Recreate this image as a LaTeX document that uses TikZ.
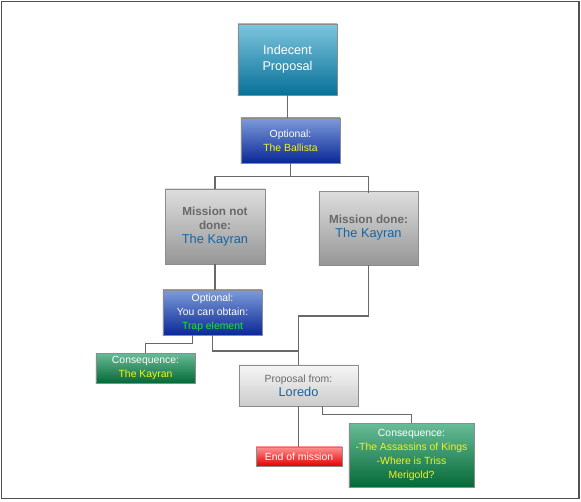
\documentclass[tikz,border=0pt]{standalone}
\usepackage{fontspec}
\setmainfont{Liberation Sans}
\usepackage{xcolor}
\usepackage{tikz}
\usetikzlibrary{positioning}
\definecolor{tealtop}{RGB}{125,198,222}
\definecolor{tealbot}{RGB}{8,112,152}
\definecolor{bluetop}{RGB}{125,155,218}
\definecolor{bluebot}{RGB}{10,40,150}
\definecolor{greytop}{RGB}{222,222,222}
\definecolor{greybot}{RGB}{150,150,150}
\definecolor{palegreytop}{RGB}{246,246,246}
\definecolor{palegreybot}{RGB}{204,204,204}
\definecolor{greentop}{RGB}{105,188,152}
\definecolor{greenbot}{RGB}{5,105,55}
\definecolor{redtop}{RGB}{255,145,145}
\definecolor{redbot}{RGB}{228,0,0}
\definecolor{boxedge}{RGB}{140,140,140}
\definecolor{linkgrey}{RGB}{105,105,105}
\definecolor{kayranblue}{RGB}{20,100,165}
\definecolor{labelgrey}{RGB}{105,105,105}
\definecolor{hiyellow}{RGB}{245,245,20}
\definecolor{higreen}{RGB}{30,235,30}
\tikzstyle{box}   = [rectangle, draw=boxedge, inner sep=0pt, text=white, font=\fontsize{7.8}{10.5}\selectfont]
\tikzstyle{link}  = [draw=linkgrey, line width=1.1pt]
\tikzset{every node/.style={align=center}}
\newcommand{\bigtxt}{\fontsize{9.6}{11.5}\selectfont}

\begin{document}
\begin{tikzpicture}[x=0.75pt, y=-0.75pt]
    \useasboundingbox (0,0) rectangle (581,501);
    \fill[white] (0,0) rectangle (581,501);
    \draw[draw={rgb,255:red,80;green,80;blue,80}, line width=1.3pt] (1.5,1.5) rectangle (579,498.5);
    % Top: mission and optional step
    \node (proposal) at (287.5,59.5)  [box, minimum width=74.3pt, minimum height=53.3pt, top color=tealtop, bottom color=tealbot, font=\fontsize{9.5}{11.8}\selectfont] {Indecent\\Proposal};
    \node (ballista) at (290.5,140.5) [box, minimum width=74.3pt, minimum height=33.8pt, top color=bluetop, bottom color=bluebot] {Optional:\\\textcolor{hiyellow}{The Ballista}};
    % Row 2: both outcomes
    \node (notdone)  at (215,226.5)   [box, minimum width=75pt, minimum height=56.3pt, top color=greytop, bottom color=greybot, text=labelgrey, font=\bfseries\fontsize{8.8}{10.5}\selectfont] {Mission not\\done:\\\textcolor{kayranblue}{\mdseries\bigtxt The Kayran}};
    \node (done)     at (368.5,228)   [box, minimum width=74.3pt, minimum height=55.5pt, top color=greytop, bottom color=greybot, text=labelgrey, font=\bfseries\fontsize{8.8}{10.5}\selectfont] {Mission done:\\\textcolor{kayranblue}{\mdseries\bigtxt The Kayran}};
    % Row 3: trap and its consequence
    \node (trap)     at (212.5,312.5) [box, minimum width=74.3pt, minimum height=33.8pt, top color=bluetop, bottom color=bluebot] {Optional:\\You can obtain:\\\textcolor{higreen}{Trap element}};
    \node (conseqA)  at (145.5,368)   [box, minimum width=74.3pt, minimum height=22.5pt, top color=greentop, bottom color=greenbot] {Consequence:\\\textcolor{hiyellow}{The Kayran}};
    % Row 4: Loredo and endings
    \node (loredo)   at (298.5,385.5) [box, minimum width=89.3pt, minimum height=30.8pt, top color=palegreytop, bottom color=palegreybot, text=labelgrey] {Proposal from:\\\textcolor{kayranblue}{\bigtxt Loredo}};
    \node (endmis)   at (299,456.5)   [box, minimum width=64.5pt, minimum height=14.3pt, top color=redtop, bottom color=redbot] {End of mission};
    \node (conseqB)  at (411.5,455)   [box, minimum width=93.8pt, minimum height=48pt, top color=greentop, bottom color=greenbot] {Consequence:\\\textcolor{hiyellow}{-The Assassins of Kings}\\\textcolor{hiyellow}{-Where is Triss}\\\textcolor{hiyellow}{Merigold?}};

    \coordinate (join) at (298.5,316);

    \draw [link] (proposal.south) -- (proposal.south |- ballista.north);
    \draw [link] (ballista.south) -- ++(0,13) -| (notdone.north);
    \draw [link] (ballista.south) -- ++(0,13) -| ([yshift=-1.5pt]done.north);
    \draw [link] (notdone.south) -- (notdone.south |- trap.north);
    \draw [link] (done.south) |- (join) -- (loredo.north);
    \draw [link] (trap.south) -- ++(0,15.5) -| (loredo.north);
    \draw [link] ([xshift=-15pt]trap.south) -- ++(0,8) -| (conseqA.north);
    \draw [link] (loredo.south) -- (loredo.south |- endmis.north);
    \draw [link] ([xshift=18pt]loredo.south) -- ++(0,8) -| (conseqB.north);
\end{tikzpicture}
\end{document}
